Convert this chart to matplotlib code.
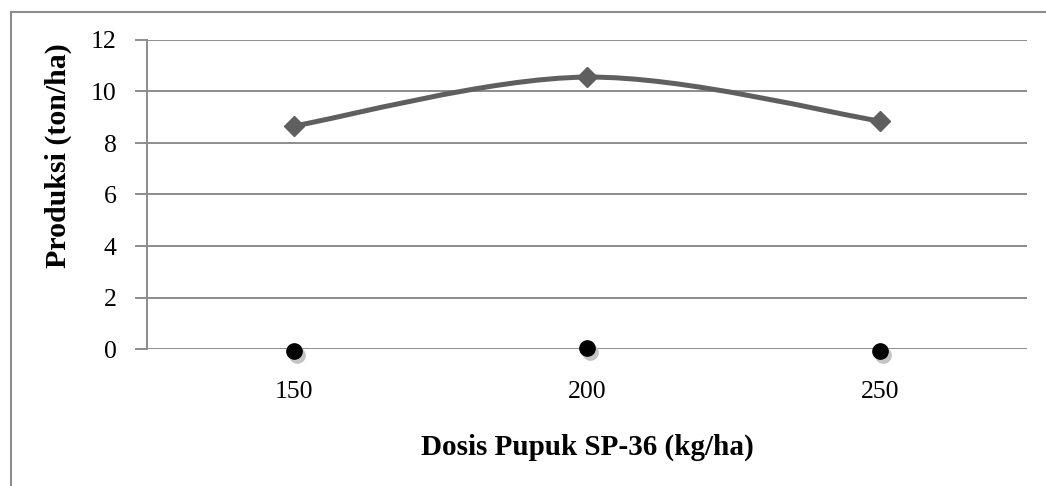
import matplotlib.pyplot as plt
import matplotlib.transforms as mtransforms
from matplotlib.path import Path
from matplotlib.patches import PathPatch
from matplotlib.lines import Line2D

plt.rcParams['font.family'] = ['Liberation Serif', 'DejaVu Serif']

dosis = ['150', '200', '250']
produksi = [8.66, 10.56, 8.85]
seri2 = [-0.06, 0.03, -0.06]
yticks = [0, 2, 4, 6, 8, 10, 12]

grid_col = '#8c8c8c'
line_col = '#5f5f5f'

fig = plt.figure(figsize=(10.46, 4.86), dpi=100)
ax = fig.add_axes([147 / 1046, 1 - 349 / 486, (1027 - 147) / 1046, (349 - 40) / 486])

xs = list(range(len(dosis)))

# smoothed line (cubic bezier, catmull-rom style control points)
pts = list(zip(xs, produksi))
verts = [pts[0]]
codes = [Path.MOVETO]
for i in range(len(pts) - 1):
    p0 = pts[i - 1] if i > 0 else pts[i]
    p1 = pts[i]
    p2 = pts[i + 1]
    p3 = pts[i + 2] if i + 2 < len(pts) else pts[i + 1]
    c1 = (p1[0] + (p2[0] - p0[0]) / 6, p1[1] + (p2[1] - p0[1]) / 6)
    c2 = (p2[0] - (p3[0] - p1[0]) / 6, p2[1] - (p3[1] - p1[1]) / 6)
    verts += [c1, c2, p2]
    codes += [Path.CURVE4] * 3
ax.add_patch(PathPatch(Path(verts, codes), facecolor='none', edgecolor=line_col,
                       lw=3.6, zorder=3, capstyle='round'))
ax.plot(xs, produksi, linestyle='none', marker='D', markersize=10.5,
        color=line_col, zorder=4)

# second series with shadow
shadow = mtransforms.offset_copy(ax.transData, fig=fig, x=3, y=-4, units='dots')
ax.plot(xs, seri2, linestyle='none', marker='o', markersize=11, color='#c4c4c4',
        transform=shadow, zorder=4, clip_on=False)
ax.plot(xs, seri2, linestyle='none', marker='o', markersize=11, color='black',
        zorder=5, clip_on=False)

ax.set_xlim(-0.5, len(dosis) - 0.5)
ax.set_ylim(0, 12)
ax.set_xticks(xs)
ax.set_xticklabels(dosis)
ax.set_yticks(yticks)
ax.yaxis.grid(True, color=grid_col, lw=1.4)
ax.set_axisbelow(True)
ax.tick_params(axis='x', length=0, pad=23, labelsize=18.5)
ax.tick_params(axis='y', length=9, width=1.4, color=grid_col, pad=13, labelsize=18.5)
for s in ['top', 'right', 'bottom']:
    ax.spines[s].set_visible(False)
ax.spines['left'].set_color(grid_col)
ax.spines['left'].set_linewidth(1.4)

ax.set_ylabel('Produksi (ton/ha)', fontsize=21.5, fontweight='bold', va='center')
ax.yaxis.set_label_coords((58 - 147) / 880, (349 - 156) / 309)
ax.set_xlabel('Dosis Pupuk SP-36 (kg/ha)', fontsize=21, fontweight='bold', labelpad=22)

# outer chart border (only left and top visible)
fig.add_artist(Line2D([11 / 1046, 11 / 1046], [0, 1 - 12 / 486], color=grid_col, lw=1.5))
fig.add_artist(Line2D([11 / 1046, 1], [1 - 12 / 486, 1 - 12 / 486], color=grid_col, lw=1.5))

fig.savefig('out.png', dpi=100)
